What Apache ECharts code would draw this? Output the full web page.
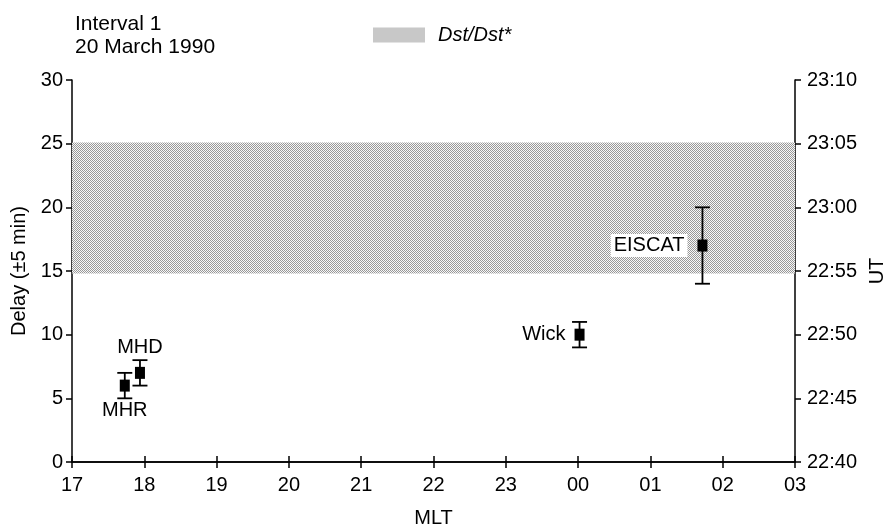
<!DOCTYPE html>
<html><head><meta charset="utf-8">
<script src="https://cdn.jsdelivr.net/npm/echarts@6/dist/echarts.min.js"></script>
<style>html,body{margin:0;padding:0;background:#fff;overflow:hidden}#c{width:885px;height:526px}</style>
</head><body><div id="c"></div>
<script>
// ---- data ----
const mltTicks = [17, 18, 19, 20, 21, 22, 23, 24, 25, 26, 27];
const mltLabels = ['17', '18', '19', '20', '21', '22', '23', '00', '01', '02', '03'];
const delayTicks = [0, 5, 10, 15, 20, 25, 30];
const utLabels = ['22:40', '22:45', '22:50', '22:55', '23:00', '23:05', '23:10'];
const stations = ['MHR', 'MHD', 'Wick', 'EISCAT'];
const stationMLT = [17.73, 17.94, 24.02, 25.72];
const stationDelay = [6, 7, 10, 17];
const delayLow = [5, 6, 9, 14];
const delayHigh = [7, 8, 11, 20];
const dstBand = [14.8, 25.1];

// ---- styles ----
const FONT = 'Liberation Sans, Arial, Helvetica, sans-serif';
const pc = document.createElement('canvas');
pc.width = 2; pc.height = 2;
const pctx = pc.getContext('2d');
pctx.fillStyle = '#f8f8f8'; pctx.fillRect(0, 0, 2, 2);
pctx.fillStyle = '#989898'; pctx.fillRect(0, 0, 1, 1); pctx.fillRect(1, 1, 1, 1);
const pattern = { image: pc, repeat: 'repeat' };

const labelCfg = {
  MHR: { position: 'bottom', distance: 9 },
  MHD: { position: 'top', distance: 9 },
  Wick: { position: 'left', distance: 9 },
  EISCAT: { position: 'left', distance: 10, backgroundColor: '#fff', padding: [2, 3, 1, 3] }
};

const axisLine = { show: true, lineStyle: { color: '#000', width: 1.5 } };
const axisTick = { show: true, length: 6, lineStyle: { color: '#000', width: 1.5 } };
const lblStyle = { color: '#000', fontSize: 20, fontFamily: FONT };

const chart = echarts.init(document.getElementById('c'), null, { renderer: 'canvas' });
chart.setOption({
  animation: false,
  backgroundColor: '#fff',
  title: {
    text: 'Interval 1\n20 March 1990', left: 75, top: 13, padding: 0,
    textStyle: { fontSize: 21, fontWeight: 'normal', color: '#000', fontFamily: FONT, lineHeight: 23 }
  },
  legend: {
    left: 373, top: 25, padding: 0, itemWidth: 52, itemHeight: 15,
    data: [{ name: 'Dst/Dst*', icon: 'rect', itemStyle: { color: pattern, borderWidth: 0 } }],
    textStyle: { fontSize: 20, fontStyle: 'italic', color: '#000', fontFamily: FONT, padding: [0, 0, 0, 8] }
  },
  grid: { left: 72, right: 90, top: 80, bottom: 64, containLabel: false, outerBoundsMode: 'none' },
  xAxis: [
    {
      type: 'value', position: 'bottom', min: 17, max: 27, interval: 1,
      axisLine, axisTick, splitLine: { show: false },
      axisLabel: Object.assign({ margin: 13, formatter: v => mltLabels[mltTicks.indexOf(v)] }, lblStyle),
      name: 'MLT', nameLocation: 'middle', nameGap: 46, nameTextStyle: lblStyle
    },
    {
      type: 'value', position: 'top', min: 17, max: 27, interval: 1,
      axisLine, axisTick, splitLine: { show: false }, axisLabel: { show: false }
    }
  ],
  yAxis: [
    {
      type: 'value', position: 'left', min: 0, max: 30, interval: 5,
      axisLine, axisTick, splitLine: { show: false },
      axisLabel: Object.assign({ margin: 9, formatter: v => String(delayTicks[delayTicks.indexOf(v)]) }, lblStyle),
      name: 'Delay (±5 min)', nameLocation: 'middle', nameGap: 40, nameRotate: 90, nameTextStyle: lblStyle
    },
    {
      type: 'value', position: 'right', min: 0, max: 30, interval: 5,
      axisLine, axisTick, splitLine: { show: false },
      axisLabel: Object.assign({ margin: 12, formatter: v => utLabels[delayTicks.indexOf(v)] }, lblStyle),
      name: 'UT', nameLocation: 'middle', nameGap: 70, nameRotate: 90, nameTextStyle: lblStyle
    }
  ],
  series: [
    {
      name: 'Dst/Dst*', type: 'custom', xAxisIndex: 0, yAxisIndex: 0, z: 1,
      itemStyle: { color: pattern },
      data: [[dstBand[0], dstBand[1]]],
      encode: { y: [0, 1] },
      renderItem: (params, api) => {
        const p1 = api.coord([mltTicks[0], api.value(1)]);
        const p2 = api.coord([mltTicks[mltTicks.length - 1], api.value(0)]);
        return { type: 'rect', shape: { x: p1[0], y: p1[1], width: p2[0] - p1[0], height: p2[1] - p1[1] },
          style: { fill: pattern } };
      }
    },
    {
      name: 'err', type: 'custom', xAxisIndex: 0, yAxisIndex: 0, z: 3,
      data: stations.map((s, i) => [stationMLT[i], delayLow[i], delayHigh[i]]),
      encode: { x: 0, y: [1, 2] },
      renderItem: (params, api) => {
        const x = api.value(0);
        const pt = api.coord([x, api.value(2)]);
        const pb = api.coord([x, api.value(1)]);
        const hw = 7.5;
        const st = { stroke: '#000', lineWidth: 1.8 };
        return { type: 'group', children: [
          { type: 'line', shape: { x1: pt[0], y1: pt[1], x2: pb[0], y2: pb[1] }, style: st },
          { type: 'line', shape: { x1: pt[0] - hw, y1: pt[1], x2: pt[0] + hw, y2: pt[1] }, style: st },
          { type: 'line', shape: { x1: pb[0] - hw, y1: pb[1], x2: pb[0] + hw, y2: pb[1] }, style: st }
        ] };
      }
    },
    {
      name: 'stations', type: 'scatter', xAxisIndex: 0, yAxisIndex: 0, z: 4,
      symbol: 'rect', symbolSize: [10, 12],
      itemStyle: { color: '#000', opacity: 1 },
      data: stations.map((s, i) => ({
        name: s, value: [stationMLT[i], stationDelay[i]],
        label: Object.assign({ show: true, formatter: s, color: '#000', fontSize: 20, fontFamily: FONT }, labelCfg[s])
      }))
    }
  ]
});
</script></body></html>
